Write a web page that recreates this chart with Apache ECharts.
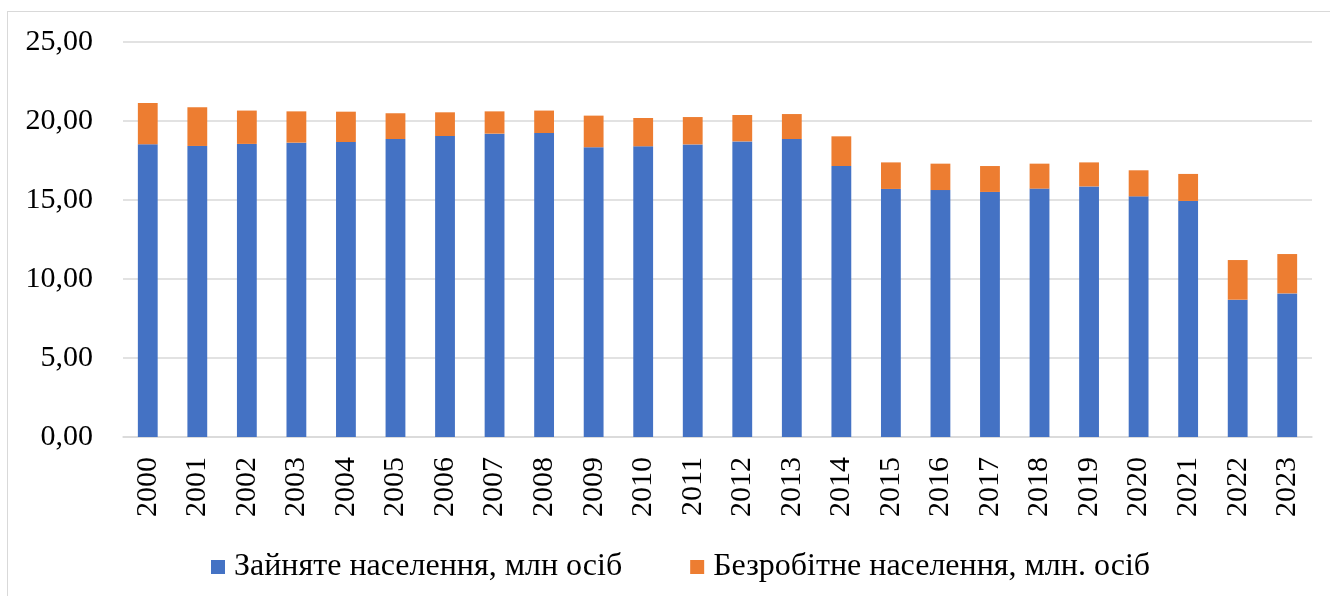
<!DOCTYPE html>
<html>
<head>
<meta charset="utf-8">
<script src="https://cdn.jsdelivr.net/npm/echarts@6/dist/echarts.min.js"></script>
<style>
  html, body { margin: 0; padding: 0; background: #fff; }
  #frame {
    position: absolute; left: 7px; top: 11px;
    width: 1340px; height: 600px;
    border: 1.5px solid #d9d9d9;
    box-sizing: border-box;
  }
  #chartBar { position: absolute; left: 0; top: 0; width: 1330px; height: 596px; }
</style>
</head>
<body>
<div id="frame"></div>
<div id="chartBar"></div>
<script>
const years = ['2000', '2001', '2002', '2003', '2004', '2005', '2006', '2007', '2008', '2009', '2010', '2011',
  '2012', '2013', '2014', '2015', '2016', '2017', '2018', '2019', '2020', '2021', '2022', '2023']
// зайняте населення, млн осіб
const employed = [18.53, 18.42, 18.55, 18.63, 18.67, 18.86, 19.05, 19.20, 19.24, 18.34, 18.40, 18.52,
  18.71, 18.86, 17.15, 15.70, 15.63, 15.51, 15.72, 15.86, 15.23, 14.94, 8.69, 9.09]
// безробітне населення, млн осіб
const unemployed = [2.61, 2.45, 2.11, 1.98, 1.92, 1.63, 1.50, 1.41, 1.42, 2.00, 1.79, 1.73,
  1.67, 1.58, 1.88, 1.68, 1.67, 1.64, 1.58, 1.52, 1.65, 1.71, 2.51, 2.49]
const yTicks = [0, 5, 10, 15, 20, 25]

const font = '"Liberation Serif", "DejaVu Serif", serif'

const chartDom = document.getElementById('chartBar')
const myChart = echarts.init(chartDom)
let option = {}
option = {
  animation: false,
  textStyle: { fontFamily: font },
  legend: {
    top: 546,
    left: 206,
    itemWidth: 14,
    itemHeight: 14,
    itemGap: 68,
    icon: 'rect',
    textStyle: { fontFamily: font, fontSize: 32, color: '#000', padding: [0, 0, 0, 4] },
    data: ['Зайняте населення, млн осіб', 'Безробітне населення, млн. осіб']
  },
  grid: {
    left: 123,
    right: 18,
    top: 42,
    bottom: 159
  },
  xAxis: {
    type: 'category',
    data: years,
    axisLine: { lineStyle: { color: '#d9d9d9', width: 1.5 } },
    axisTick: { show: false },
    axisLabel: {
      rotate: 90,
      margin: 20,
      fontFamily: font,
      fontSize: 30,
      color: '#000'
    }
  },
  yAxis: {
    type: 'value',
    min: yTicks[0],
    max: yTicks[yTicks.length - 1],
    interval: 5,
    axisLine: { show: false },
    axisTick: { show: false },
    splitLine: { lineStyle: { color: '#d9d9d9', width: 1.5 } },
    axisLabel: {
      margin: 30,
      fontFamily: font,
      fontSize: 30,
      color: '#000',
      formatter: v => v.toFixed(2).replace('.', ',')
    }
  },
  series: [
    {
      name: 'Зайняте населення, млн осіб',
      type: 'bar',
      stack: 'total',
      barWidth: '40%',
      data: employed,
      itemStyle: { color: '#4472C4' }
    },
    {
      name: 'Безробітне населення, млн. осіб',
      type: 'bar',
      stack: 'total',
      barWidth: '40%',
      data: unemployed,
      itemStyle: { color: '#ED7D31' }
    }
  ]
}
option && myChart.setOption(option)
</script>
</body>
</html>
